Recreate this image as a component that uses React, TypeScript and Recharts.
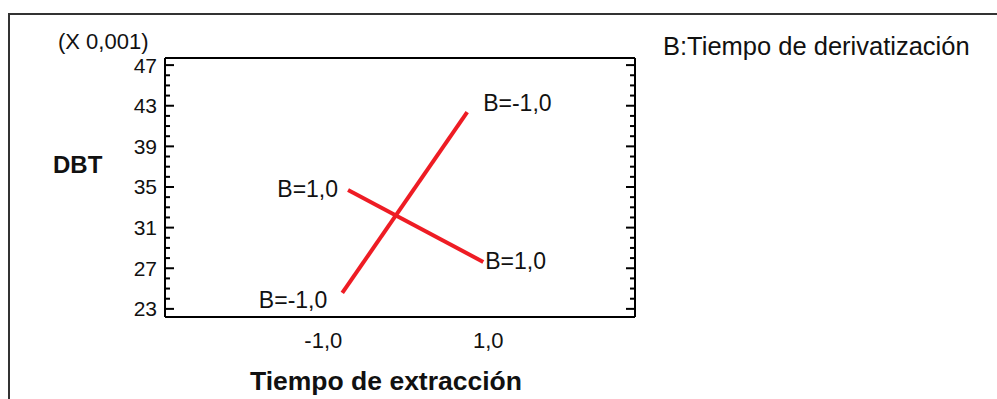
import { LineChart, Line, XAxis, YAxis, LabelList } from "recharts";

// Interaction plot: DBT response vs extraction time, one line per derivatization level
const X_TICKS = [-1, 1];
const Y_MAJOR = [23, 27, 31, 35, 39, 43, 47];
const Y_MINOR = [
  23, 24, 25, 26, 27, 28, 29, 30, 31, 32, 33, 34, 35, 36, 37, 38, 39, 40, 41,
  42, 43, 44, 45, 46, 47,
];
const LEVEL_LABELS = ["B=-1,0", "B=1,0"];
const B_LOW_X = [-0.77, 0.745];
const B_LOW_Y = [24.57, 42.37];
const B_HIGH_X = [-0.7, 0.94];
const B_HIGH_Y = [34.7, 27.62];

const X_DOMAIN: [number, number] = [-2.92, 2.78];
const Y_DOMAIN: [number, number] = [22.2, 47.7];

const FONT = '"Liberation Sans", Arial, sans-serif';
const INK = "#111";
const RED = "#ee1c24";

const lowData = B_LOW_X.map((x, i) => ({ x, y: B_LOW_Y[i], label: LEVEL_LABELS[0] }));
const highData = B_HIGH_X.map((x, i) => ({ x, y: B_HIGH_Y[i], label: LEVEL_LABELS[1] }));

const fmt = (v: number) => v.toFixed(1).replace(".", ",");

function LeftTick(props: any) {
  const { x, y, payload } = props;
  const major = Y_MAJOR.includes(payload.value);
  return (
    <g>
      <line x1={x} x2={x + (major ? 9 : 5)} y1={y} y2={y} stroke="#000" strokeWidth={2} />
      {major && (
        <text x={x - 8} y={y + 7.5} textAnchor="end" fontFamily={FONT} fontSize={21} fill={INK}>
          {payload.value}
        </text>
      )}
    </g>
  );
}

function RightTick(props: any) {
  const { x, y, payload } = props;
  const major = Y_MAJOR.includes(payload.value);
  return <line x1={x} x2={x - (major ? 9 : 5)} y1={y} y2={y} stroke="#000" strokeWidth={2} />;
}

function BottomTick(props: any) {
  const { x, y, payload } = props;
  return (
    <text x={x} y={y + 31} textAnchor="middle" fontFamily={FONT} fontSize={22} fill={INK}>
      {fmt(payload.value)}
    </text>
  );
}

type Offsets = { sx: number; sy: number; ex: number; ey: number };

function endLabel(o: Offsets) {
  return (props: any) => {
    const { x, y, index, value } = props;
    const first = index === 0;
    return (
      <text
        x={x + (first ? o.sx : o.ex)}
        y={y + (first ? o.sy : o.ey) + 8}
        textAnchor={first ? "end" : "start"}
        fontFamily={FONT}
        fontSize={23}
        fill={INK}
      >
        {value}
      </text>
    );
  };
}

export default function App() {
  return (
    <div style={{ position: "absolute", left: 0, top: 0, width: 997, height: 399, background: "#fff" }}>
      <svg width={997} height={399} style={{ position: "absolute", left: 0, top: 0 }}>
        <path d="M9 399 V14 H997" fill="none" stroke="#333" strokeWidth={2} />
        <text x={58} y={49} fontFamily={FONT} fontSize={22} fill={INK}>
          (X 0,001)
        </text>
        <text x={53} y={173} fontFamily={FONT} fontSize={24} fontWeight="bold" fill={INK}>
          DBT
        </text>
        <text x={250} y={390} fontFamily={FONT} fontSize={26.5} fontWeight="bold" fill={INK}>
          Tiempo de extracción
        </text>
        <text x={663} y={55} fontFamily={FONT} fontSize={25.5} fill={INK}>
          B:Tiempo de derivatización
        </text>
      </svg>
      <div style={{ position: "absolute", left: 0, top: 0 }}>
        <LineChart width={997} height={399} margin={{ top: 57, right: 361, bottom: 81, left: 164 }}>
          <XAxis
            dataKey="x"
            type="number"
            domain={X_DOMAIN}
            allowDataOverflow
            ticks={X_TICKS}
            interval={0}
            height={1}
            tickSize={0}
            tickMargin={0}
            tickLine={false}
            axisLine={{ stroke: "#000", strokeWidth: 2 }}
            tick={<BottomTick />}
          />
          <XAxis
            xAxisId="top"
            orientation="top"
            dataKey="x"
            type="number"
            domain={X_DOMAIN}
            allowDataOverflow
            height={1}
            tick={false}
            tickLine={false}
            axisLine={{ stroke: "#000", strokeWidth: 2 }}
          />
          <YAxis
            type="number"
            domain={Y_DOMAIN}
            allowDataOverflow
            ticks={Y_MINOR}
            interval={0}
            width={1}
            tickSize={0}
            tickMargin={0}
            tickLine={false}
            axisLine={{ stroke: "#000", strokeWidth: 2 }}
            tick={<LeftTick />}
          />
          <YAxis
            yAxisId="r"
            orientation="right"
            type="number"
            domain={Y_DOMAIN}
            allowDataOverflow
            ticks={Y_MINOR}
            interval={0}
            width={1}
            tickSize={0}
            tickMargin={0}
            tickLine={false}
            axisLine={{ stroke: "#000", strokeWidth: 2 }}
            tick={<RightTick />}
          />
          <Line
            data={lowData}
            dataKey="y"
            stroke={RED}
            strokeWidth={4}
            dot={false}
            isAnimationActive={false}
          >
            <LabelList dataKey="label" content={endLabel({ sx: -15, sy: 7, ex: 16, ey: -9 })} />
          </Line>
          <Line
            data={highData}
            dataKey="y"
            stroke={RED}
            strokeWidth={4}
            dot={false}
            isAnimationActive={false}
          >
            <LabelList dataKey="label" content={endLabel({ sx: -10, sy: -1, ex: 2, ey: -1 })} />
          </Line>
        </LineChart>
      </div>
    </div>
  );
}
